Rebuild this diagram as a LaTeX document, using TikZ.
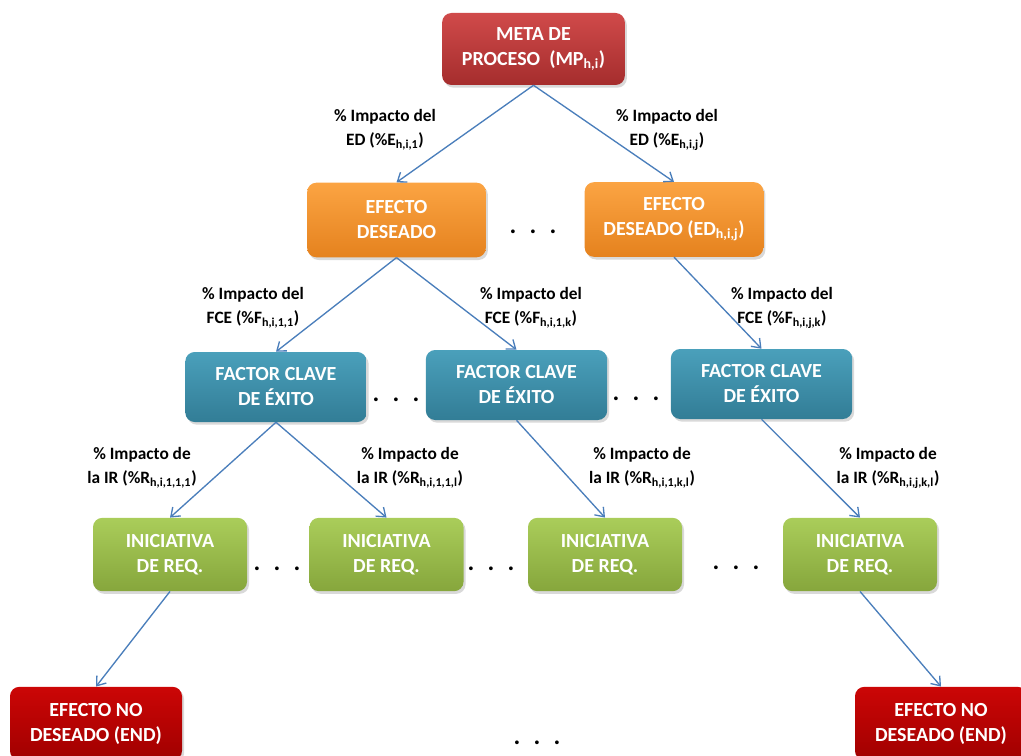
\documentclass[tikz,border=0pt]{standalone}
\usepackage{fontspec}
\setmainfont{Carlito}
\usetikzlibrary{arrows.meta, shadows}
\usepackage{xcolor}

\definecolor{mpTop}{HTML}{D04A4A}
\definecolor{mpBot}{HTML}{A52D2D}
\definecolor{edTop}{HTML}{FBA443}
\definecolor{edBot}{HTML}{E5821E}
\definecolor{fceTop}{HTML}{4AA0BB}
\definecolor{fceBot}{HTML}{327D96}
\definecolor{irTop}{HTML}{AACD5A}
\definecolor{irBot}{HTML}{86A63C}
\definecolor{endTop}{HTML}{CC0606}
\definecolor{endBot}{HTML}{A00000}
\definecolor{arrBlue}{HTML}{4A7EBB}

\begin{document}
\begin{tikzpicture}[x=0.75pt, y=-0.75pt,
      box/.style={rounded corners=7pt, align=center, inner sep=0pt, text=white,
                  font=\bfseries\fontsize{15}{18.75}\selectfont,
                  drop shadow={opacity=0.3, shadow xshift=1.5pt, shadow yshift=-2pt}},
      mpbox/.style={box, top color=mpTop, bottom color=mpBot, minimum width=137pt, minimum height=54pt},
      edbox/.style={box, top color=edTop, bottom color=edBot, minimum width=134pt, minimum height=56pt},
      fcebox/.style={box, top color=fceTop, bottom color=fceBot, minimum width=136pt, minimum height=52.5pt},
      irbox/.style={box, top color=irTop, bottom color=irBot, minimum width=115.5pt, minimum height=55pt},
      endbox/.style={box, top color=endTop, bottom color=endBot, minimum width=129pt, minimum height=55pt},
      lbl/.style={align=center, inner sep=0pt, font=\bfseries\fontsize{13}{18}\selectfont},
      dots/.style={inner sep=0pt, font=\bfseries\fontsize{19}{19}\selectfont},
      arr/.style={-{Straight Barb[length=6pt, width=9pt]}, draw=arrBlue, line width=1pt}
    ]
    \useasboundingbox (0,0) rectangle (1021,756);

    % boxes
    \node[mpbox]  (mp)   at (533.5,49)  {META DE\\PROCESO\ \ (MP\textsubscript{h,i})};
    \node[edbox]  (ed1)  at (396.5,220) {EFECTO\\DESEADO};
    \node[edbox]  (ed2)  at (674,219.5) {EFECTO\\DESEADO (ED\textsubscript{h,i,j})};
    \node[fcebox] (fce1) at (276,387)   {FACTOR CLAVE\\DE ÉXITO};
    \node[fcebox] (fce2) at (516.5,385) {FACTOR CLAVE\\DE ÉXITO};
    \node[fcebox] (fce3) at (761.5,384) {FACTOR CLAVE\\DE ÉXITO};
    \node[irbox]  (ir1)  at (170,554.5) {INICIATIVA\\DE REQ.};
    \node[irbox]  (ir2)  at (386.5,554.5) {INICIATIVA\\DE REQ.};
    \node[irbox]  (ir3)  at (605,554.5) {INICIATIVA\\DE REQ.};
    \node[irbox]  (ir4)  at (860,554.5) {INICIATIVA\\DE REQ.};
    \node[endbox] (end1) at (96,723.5)  {EFECTO NO\\DESEADO (END)};
    \node[endbox] (end2) at (941,723.5) {EFECTO NO\\DESEADO (END)};

    % dots
    \node[dots] (d1) at (533,232) {.\hspace{10pt}.\hspace{10pt}.};
    \node[dots] (d2) at (396,400) {.\hspace{10pt}.\hspace{10pt}.};
    \node[dots] (d3) at (636,399) {.\hspace{10pt}.\hspace{10pt}.};
    \node[dots] (d4) at (277,569) {.\hspace{10pt}.\hspace{10pt}.};
    \node[dots] (d5) at (491,569) {.\hspace{10pt}.\hspace{10pt}.};
    \node[dots] (d6) at (736,568) {.\hspace{10pt}.\hspace{10pt}.};
    \node[dots] (d7) at (537,743) {.\hspace{10pt}.\hspace{10pt}.};

    % labels
    \node[lbl] (pe1) at (385,130) {\% Impacto del\\ED (\%E\textsubscript{h,i,1})};
    \node[lbl] (pe2) at (667,130) {\% Impacto del\\ED (\%E\textsubscript{h,i,j})};
    \node[lbl] (pf1) at (253,308) {\% Impacto del\\FCE (\%F\textsubscript{h,i,1,1})};
    \node[lbl] (pf2) at (531,308) {\% Impacto del\\FCE (\%F\textsubscript{h,i,1,k})};
    \node[lbl] (pf3) at (782,308) {\% Impacto del\\FCE (\%F\textsubscript{h,i,j,k})};
    \node[lbl] (pr1) at (142,468) {\% Impacto de\\la IR (\%R\textsubscript{h,i,1,1,1})};
    \node[lbl] (pr2) at (410,468) {\% Impacto de\\la IR (\%R\textsubscript{h,i,1,1,l})};
    \node[lbl] (pr3) at (642,468) {\% Impacto de\\la IR (\%R\textsubscript{h,i,1,k,l})};
    \node[lbl] (pr4) at (888,468) {\% Impacto de\\la IR (\%R\textsubscript{h,i,j,k,l})};

    % connectors
    \draw[arr] (mp.south) -- (ed1.north);
    \draw[arr] (mp.south) -- (ed2.north);
    \draw[arr] (ed1.south) -- (fce1.north);
    \draw[arr] (ed1.south) -- (fce2.north);
    \draw[arr] (ed2.south) -- (fce3.north);
    \draw[arr] (fce1.south) -- (ir1.north);
    \draw[arr] (fce1.south) -- (ir2.north);
    \draw[arr] (fce2.south) -- (ir3.north);
    \draw[arr] (fce3.south) -- (ir4.north);
    \draw[arr] (ir1.south) -- (end1.north);
    \draw[arr] (ir4.south) -- (end2.north);
\end{tikzpicture}
\end{document}
